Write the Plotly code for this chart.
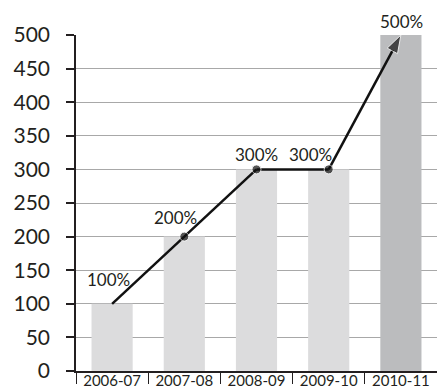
import plotly.graph_objects as go

# Yearly values, with the change shown as a percentage of the 2006-07 base
years = ["2006-07", "2007-08", "2008-09", "2009-10", "2010-11"]
values = [100, 200, 300, 300, 500]
y_ticks = [0, 50, 100, 150, 200, 250, 300, 350, 400, 450, 500]

bar_colors = ["#dcdcdd", "#dcdcdd", "#dcdcdd", "#dcdcdd", "#bbbcbe"]
label_xshift = [-4, -9, 0, -18, 1]
label_yshift = [24, 19, 15, 15, 14]

FONT = "Lato"
INK = "#231f20"

fig = go.Figure()

fig.add_trace(go.Bar(
    x=years, y=values, width=0.57,
    marker=dict(color=bar_colors, line=dict(width=0)),
    hoverinfo="skip",
))

fig.add_trace(go.Scatter(
    x=years, y=values, mode="lines+markers",
    line=dict(color="#111111", width=2.5),
    marker=dict(
        symbol=["circle"] * (len(values) - 1) + ["arrow"],
        angleref="previous",
        size=[9] * (len(values) - 1) + [19],
        color="#111111",
    ),
    cliponaxis=False,
    hoverinfo="skip",
))

for yr, v, dx, dy in zip(years, values, label_xshift, label_yshift):
    fig.add_annotation(
        x=yr, y=v, text=f"{v}%", showarrow=False,
        xshift=dx, yshift=dy,
        font=dict(family=FONT, size=17, color=INK),
    )

fig.update_layout(
    width=437, height=388,
    margin=dict(l=76, r=0, t=35, b=17),
    paper_bgcolor="white", plot_bgcolor="white",
    showlegend=False,
    bargap=0.43,
)

fig.update_xaxes(
    type="category",
    showgrid=False,
    showline=True, linecolor=INK, linewidth=1.5,
    ticks="outside", tickson="boundaries", ticklen=11,
    tickcolor=INK, tickwidth=1,
    ticklabelstandoff=-5,
    tickfont=dict(family=FONT, size=15, color=INK),
    automargin=False,
    fixedrange=True,
)

fig.update_yaxes(
    range=[0, 500],
    tickvals=y_ticks,
    showgrid=True, gridcolor="#a8a8a8", gridwidth=1,
    zeroline=False,
    showline=True, linecolor=INK, linewidth=1.5,
    ticks="outside", ticklen=8, tickcolor=INK, tickwidth=1.5,
    ticklabelstandoff=12,
    tickfont=dict(family=FONT, size=21, color=INK),
    automargin=False,
    fixedrange=True,
)

fig.write_html("out.html", config=dict(displayModeBar=False))
